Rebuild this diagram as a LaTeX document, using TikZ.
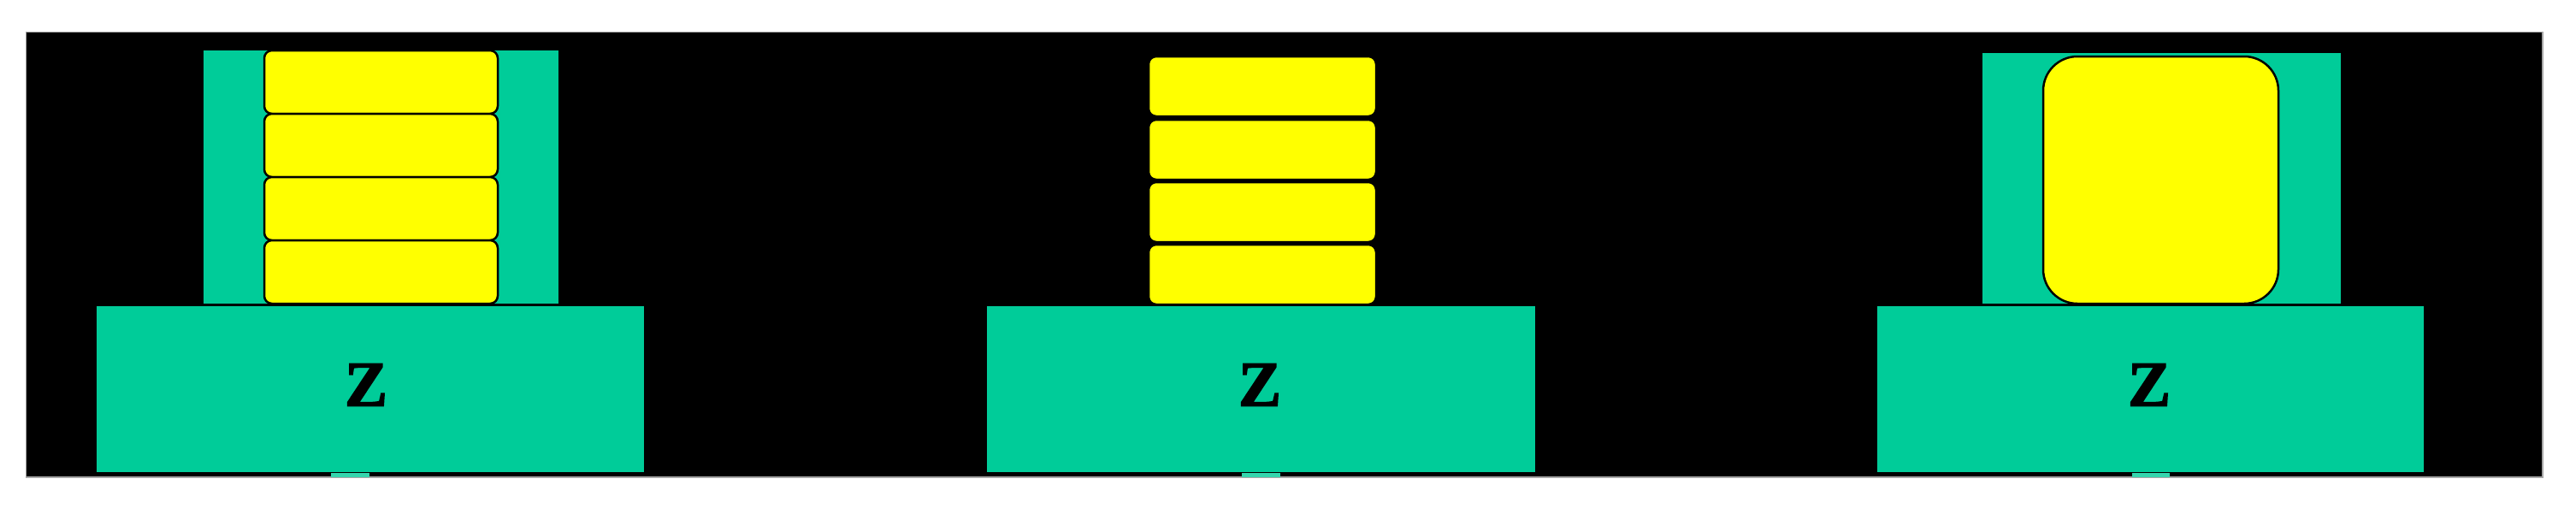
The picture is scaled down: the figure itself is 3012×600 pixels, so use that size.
\documentclass[tikz,border=0pt]{standalone}
\usepackage{fontspec}
\setmainfont{Liberation Serif}
\newfontfamily\zfont[BoldFont={* Bold},BoldFeatures={FakeBold=2}]{Liberation Serif}
\definecolor{tealc}{RGB}{0,204,153}
\definecolor{yel}{RGB}{255,255,0}
\tikzset{
  bgbox/.style={fill=black,draw=gray!70,line width=1.5pt},
  tealbox/.style={fill=tealc,draw=none},
  tile/.style={fill=yel,draw=black,line width=2.5pt,rounded corners=9pt},
  bigtile/.style={fill=yel,draw=black,line width=2.5pt,rounded corners=40pt},
  tab/.style={fill=tealc!80!white,draw=none},
  zlabel/.style={font=\zfont\fontsize{75}{75}\selectfont\bfseries,text=black,inner sep=0pt}
}
\begin{document}
\begin{tikzpicture}[x=1pt,y=-1pt]
\useasboundingbox (0,0) rectangle (3012,600);
\fill[white] (0,0) rectangle (3012,600);
\draw[bgbox] (30.5,37.5) rectangle (2973,558);
% panel 1
\fill[tealbox] (238,59) rectangle (653,355);
\foreach \i/\t in {1/59,2/133,3/207,4/281}{
  \draw[tile] (309,\t) rectangle (582,\t+74);
}
\fill[tealbox] (113,358) rectangle (753,552);
\node[zlabel] (z1) at (428,450) {Z};
\fill[tab] (387,553) rectangle (432,558);
% panel 2
\foreach \i/\t in {1/66,2/140,3/213,4/286}{
  \draw[tile] (1343,\t) rectangle (1609,\t+70);
}
\fill[tealbox] (1154,358) rectangle (1795,552);
\node[zlabel] (z2) at (1473,450) {Z};
\fill[tab] (1452,553) rectangle (1497,558);
% panel 3
\fill[tealbox] (2318,62) rectangle (2737,355);
\draw[bigtile] (2389,66) rectangle (2664,355);
\fill[tealbox] (2195,358) rectangle (2834,552);
\node[zlabel] (z3) at (2513,450) {Z};
\fill[tab] (2493,553) rectangle (2537,558);
\end{tikzpicture}
\end{document}
